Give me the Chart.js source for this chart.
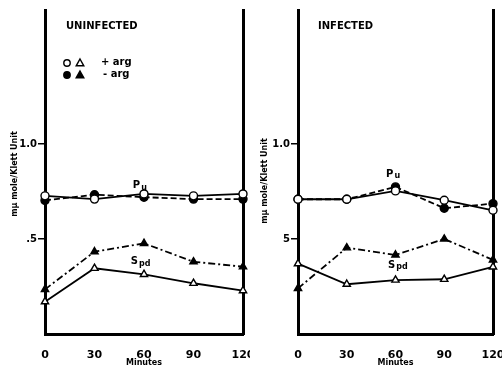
<!DOCTYPE html>
<html>
<head>
<meta charset="utf-8">
<script src="https://cdn.jsdelivr.net/npm/chart.js@4/dist/chart.umd.min.js"></script>
<style>
  body { margin: 0; background: #fff; }
  #wrap { position: relative; width: 502px; height: 375px; overflow: hidden; }
  canvas { position: absolute; top: 0; }
  #left { left: 0; }
  #right { left: 250px; }
</style>
</head>
<body>
<div id="wrap">
  <canvas id="left" width="250" height="375"></canvas>
  <canvas id="right" width="252" height="375"></canvas>
</div>
<script>
// time points (minutes)
const minutes = [0, 30, 60, 90, 120];
const xTicks = [0, 30, 60, 90, 120];
const yTicks = [0.5, 1.0];
const yTickLabelsLeft = ['.5', '1.0'];
const yTickLabelsRight = ['5', '1.0'];

// uninfected, mu mole / Klett unit
const puPlusArgUninf = [0.727, 0.710, 0.737, 0.727, 0.737];
const puMinusArgUninf = [0.703, 0.733, 0.720, 0.710, 0.710];
const spdPlusArgUninf = [0.170, 0.346, 0.314, 0.267, 0.228];
const spdMinusArgUninf = [0.235, 0.433, 0.477, 0.380, 0.354];

// infected
const puPlusArgInf = [0.709, 0.709, 0.753, 0.704, 0.651];
const puMinusArgInf = [0.709, 0.709, 0.774, 0.662, 0.686];
const spdPlusArgInf = [0.370, 0.262, 0.284, 0.288, 0.353];
const spdMinusArgInf = [0.240, 0.454, 0.416, 0.500, 0.390];

const FONT = '"DejaVu Sans", sans-serif';

function pts(values) {
    return minutes.map((m, i) => ({ x: m, y: values[i] }));
}

function series(values, style, filled, dash) {
    return {
        data: pts(values),
        borderColor: '#000',
        borderWidth: 1.8,
        borderDash: dash,
        pointStyle: style,
        pointRadius: style === 'triangle' ? 4.2 : 4,
        pointBorderWidth: 1.4,
        pointBorderColor: '#000',
        pointBackgroundColor: filled ? '#000' : '#fff',
        clip: false,
        tension: 0
    };
}

// subscript label like P_u or S_pd at a data position
function subLabel(ctx, x, y, big, small) {
    ctx.font = 'bold 10px ' + FONT;
    const w1 = ctx.measureText(big).width;
    ctx.font = 'bold 8px ' + FONT;
    const w2 = ctx.measureText(small).width;
    const x0 = x - (w1 + w2 + 1) / 2;
    ctx.textAlign = 'left';
    ctx.textBaseline = 'middle';
    ctx.font = 'bold 10px ' + FONT;
    ctx.fillText(big, x0, y);
    ctx.font = 'bold 8px ' + FONT;
    ctx.fillText(small, x0 + w1 + 1, y + 2);
}

function marker(ctx, type, x, y, filled) {
    ctx.beginPath();
    if (type === 'circle') {
        ctx.arc(x, y, 3.2, 0, Math.PI * 2);
    } else {
        ctx.moveTo(x, y - 4);
        ctx.lineTo(x + 3.8, y + 2.8);
        ctx.lineTo(x - 3.8, y + 2.8);
        ctx.closePath();
    }
    ctx.fillStyle = filled ? '#000' : '#fff';
    ctx.fill();
    ctx.lineWidth = 1.4;
    ctx.strokeStyle = '#000';
    ctx.stroke();
}

const textPlugin = {
    id: 'panelText',
    afterDraw(chart, args, opts) {
        const ctx = chart.ctx;
        const xs = chart.scales.x, ys = chart.scales.y;
        const area = chart.chartArea;
        ctx.save();
        ctx.fillStyle = '#000';

        ctx.font = 'bold 10px ' + FONT;
        ctx.textAlign = 'left';
        ctx.textBaseline = 'middle';
        ctx.fillText(opts.title, opts.titleX, 26);

        if (opts.legend) {
            marker(ctx, 'circle', 67, 63, false);
            marker(ctx, 'triangle', 80, 63, false);
            marker(ctx, 'circle', 67, 75, true);
            marker(ctx, 'triangle', 80, 75, true);
            ctx.fillStyle = '#000';
            ctx.font = 'bold 10px ' + FONT;
            ctx.fillText('+ arg', 101, 62);
            ctx.fillText('- arg', 103, 74);
        }

        ctx.fillStyle = '#000';
        subLabel(ctx, xs.getPixelForValue(opts.pu[0]), ys.getPixelForValue(opts.pu[1]), 'P', 'u');
        subLabel(ctx, xs.getPixelForValue(opts.spd[0]), ys.getPixelForValue(opts.spd[1]), 'S', 'pd');

        // y axis title
        ctx.save();
        ctx.translate(15, opts.yTitleY);
        ctx.rotate(-Math.PI / 2);
        ctx.textAlign = 'center';
        ctx.textBaseline = 'middle';
        ctx.font = 'bold 8px ' + FONT;
        ctx.fillText('m\u03bc mole/Klett Unit', 0, 0);
        ctx.restore();

        // x axis title
        ctx.textAlign = 'center';
        ctx.font = 'bold 8px ' + FONT;
        ctx.fillText('Minutes', (area.left + area.right) / 2, 363);
        ctx.restore();
    }
};

function makePanel(id, cfg) {
    new Chart(document.getElementById(id), {
        type: 'line',
        data: {
            datasets: [
                series(cfg.puPlus, 'circle', false, []),
                series(cfg.puMinus, 'circle', true, [6, 3]),
                series(cfg.spdPlus, 'triangle', false, []),
                series(cfg.spdMinus, 'triangle', true, [7, 3, 2, 3])
            ]
        },
        options: {
            responsive: false,
            animation: false,
            devicePixelRatio: 1,
            layout: { padding: { top: 10, left: 0, right: 0, bottom: 0 } },
            plugins: {
                legend: { display: false },
                tooltip: { enabled: false },
                panelText: cfg.text
            },
            scales: {
                x: {
                    type: 'linear',
                    min: 0,
                    max: 120,
                    afterBuildTicks: s => { s.ticks = xTicks.map(v => ({ value: v })); },
                    afterFit: s => { s.height = 41; s.paddingLeft = 0; s.paddingRight = 0; },
                    grid: { display: false },
                    border: { color: '#000', width: 3 },
                    ticks: {
                        color: '#000',
                        font: { family: FONT, size: 11, weight: 'bold' },
                        padding: 7,
                        maxRotation: 0,
                        autoSkip: false
                    }
                },
                y: {
                    position: 'left',
                    min: 0,
                    max: 1.705,
                    afterBuildTicks: s => { s.ticks = yTicks.map(v => ({ value: v })); },
                    afterFit: s => { s.width = cfg.leftWidth; },
                    grid: { drawOnChartArea: false, color: '#000', lineWidth: 1.5, tickLength: 7 },
                    border: { color: '#000', width: 3 },
                    ticks: {
                        color: '#000',
                        font: { family: FONT, size: 10, weight: 'bold' },
                        padding: 1,
                        callback: (v, i) => cfg.yLabels[i]
                    }
                },
                y2: {
                    position: 'right',
                    min: 0,
                    max: 1.705,
                    afterFit: s => { s.width = cfg.rightWidth; },
                    grid: { display: false },
                    border: { color: '#000', width: 3 },
                    ticks: { display: false }
                }
            }
        },
        plugins: [textPlugin]
    });
}

makePanel('left', {
    puPlus: puPlusArgUninf, puMinus: puMinusArgUninf,
    spdPlus: spdPlusArgUninf, spdMinus: spdMinusArgUninf,
    yLabels: yTickLabelsLeft,
    leftWidth: 45, rightWidth: 7,
    text: { title: 'UNINFECTED', titleX: 66, legend: true, pu: [57.5, 0.78], spd: [58, 0.38], yTitleY: 174 }
});

makePanel('right', {
    puPlus: puPlusArgInf, puMinus: puMinusArgInf,
    spdPlus: spdPlusArgInf, spdMinus: spdMinusArgInf,
    yLabels: yTickLabelsRight,
    leftWidth: 48, rightWidth: 9,
    text: { title: 'INFECTED', titleX: 68, legend: false, pu: [58.5, 0.84], spd: [61.5, 0.363], yTitleY: 181 }
});
</script>
</body>
</html>
